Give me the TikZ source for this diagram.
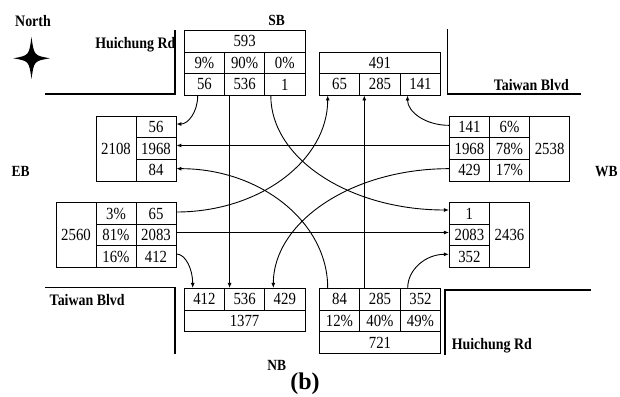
\documentclass[tikz,border=0pt]{standalone}
\usepackage{fontspec}
\setmainfont{Liberation Serif}[FakeStretch=0.87]
\newfontfamily\plainserif{Liberation Serif}
\usetikzlibrary{arrows.meta}
\newcommand\mynum{\fontsize{17}{17}\selectfont}
\newcommand\mylbl{\fontsize{16}{16}\selectfont\bfseries}
\newcommand\mydir{\fontsize{15.5}{15.5}\selectfont\bfseries}
\begin{document}
\begin{tikzpicture}[x=1pt,y=-1pt,
  cell/.style={draw, line width=0.8pt, inner sep=0pt, minimum width=40.2pt, minimum height=21.6pt, font=\mynum},
  arr/.style={line width=0.9pt, -{Latex[length=5pt,width=4pt]}},
  road/.style={line width=1.1pt},
  lbl/.style={font=\mylbl, anchor=base, inner sep=0pt},
  dir/.style={font=\mydir, anchor=base, inner sep=0pt}]
\useasboundingbox (0,0) rectangle (620,396);

% compass star
\fill (31.5,37) .. controls (34,55.5) .. (50,58.3) .. controls (34,61) .. (31.5,79) .. controls (29,61) .. (13.3,58.3) .. controls (29,55.5) .. (31.5,37) -- cycle;

% labels
\node[lbl] (north) at (33,26.7) {North};
\node[dir] (sblbl) at (276.7,26) {SB};
\node[dir] (eblbl) at (20.7,176.7) {EB};
\node[dir] (wblbl) at (606.3,176.7) {WB};
\node[dir] (nblbl) at (276.7,370.7) {NB};
\node[lbl] (hr1) at (135.3,48.3) {Huichung Rd};
\node[lbl] (tb1) at (531.3,90.5) {Taiwan Blvd};
\node[lbl] (tb2) at (87.2,305.7) {Taiwan Blvd};
\node[lbl] (hr2) at (491.8,349.3) {Huichung Rd};
\node[anchor=base, inner sep=0pt, font=\plainserif\fontsize{24}{24}\selectfont\bfseries] (cap) at (305,389) {(b)};

% road corners
\draw[road] (45,94) -- (175,94) -- (175,30);
\draw[road] (447.7,29) -- (447.7,94) -- (580.7,94);
\draw[road] (45,287.7) -- (175,287.7) -- (175,354);
\draw[road] (445,355) -- (445,290) -- (591,290);

% SB box
\node[cell, minimum width=120.6pt] (sbT) at (244.6,41.45) {593};
\node[cell] (sbp1) at (204.4,62.95) {9\%};
\node[cell] (sbp2) at (244.6,62.95) {90\%};
\node[cell] (sbp3) at (284.8,62.95) {0\%};
\node[cell] (sb1) at (204.4,84.45) {56};
\node[cell] (sb2) at (244.6,84.45) {536};
\node[cell] (sb3) at (284.8,84.45) {1};

% top outgoing box
\node[cell, minimum width=121.4pt] (toT) at (380,62.75) {491};
\node[cell, minimum width=40.5pt] (to1) at (339.5,84.25) {65};
\node[cell, minimum width=40.5pt] (to2) at (380,84.25) {285};
\node[cell, minimum width=40.5pt] (to3) at (420.5,84.25) {141};

% EB outgoing box
\node[cell, minimum width=40pt, minimum height=65pt] (eoT) at (116,148.5) {2108};
\node[cell, minimum width=40pt] (eo1) at (156,126.83) {56};
\node[cell, minimum width=40pt] (eo2) at (156,148.5) {1968};
\node[cell, minimum width=40pt] (eo3) at (156,170.17) {84};

% EB incoming box
\node[cell, minimum width=40pt, minimum height=64.6pt] (eiT) at (76,235) {2560};
\node[cell, minimum width=40pt] (eip1) at (116,213.5) {3\%};
\node[cell, minimum width=40pt] (eip2) at (116,235) {81\%};
\node[cell, minimum width=40pt] (eip3) at (116,256.5) {16\%};
\node[cell, minimum width=40pt] (ei1) at (156,213.5) {65};
\node[cell, minimum width=40pt] (ei2) at (156,235) {2083};
\node[cell, minimum width=40pt] (ei3) at (156,256.5) {412};

% WB incoming box
\node[cell] (wi1) at (469.4,126.83) {141};
\node[cell] (wi2) at (469.4,148.5) {1968};
\node[cell] (wi3) at (469.4,170.17) {429};
\node[cell] (wip1) at (509.5,126.83) {6\%};
\node[cell] (wip2) at (509.5,148.5) {78\%};
\node[cell] (wip3) at (509.5,170.17) {17\%};
\node[cell, minimum height=65pt] (wiT) at (549.6,148.5) {2538};

% WB outgoing box
\node[cell] (wo1) at (469.4,213.5) {1};
\node[cell] (wo2) at (469.4,235) {2083};
\node[cell] (wo3) at (469.4,256.5) {352};
\node[cell, minimum height=64.6pt] (woT) at (509.5,235) {2436};

% NB outgoing box
\node[cell] (no1) at (204.4,299.15) {412};
\node[cell] (no2) at (244.6,299.15) {536};
\node[cell] (no3) at (284.8,299.15) {429};
\node[cell, minimum width=120.6pt] (noT) at (244.6,320.85) {1377};

% NB incoming box
\node[cell, minimum width=40.5pt] (ni1) at (339.5,299.15) {84};
\node[cell, minimum width=40.5pt] (ni2) at (380,299.15) {285};
\node[cell, minimum width=40.5pt] (ni3) at (420.5,299.15) {352};
\node[cell, minimum width=40.5pt] (nip1) at (339.5,320.85) {12\%};
\node[cell, minimum width=40.5pt] (nip2) at (380,320.85) {40\%};
\node[cell, minimum width=40.5pt] (nip3) at (420.5,320.85) {49\%};
\node[cell, minimum width=121.4pt] (niT) at (380,342.5) {721};

% movements
\draw[arr] ([xshift=-6.7pt]sb1.south) .. controls +(0,16) and +(12,0) .. ([yshift=2.8pt]eo1.east);
\draw[arr] ([xshift=-15pt]sb2.south) -- ([xshift=-15pt]no2.north);
\draw[arr] ([xshift=-14pt]sb3.south) .. controls +(0,63.4) and +(-98.5,0) .. ([yshift=3.5pt]wo1.west);

\draw[arr] ([yshift=1.5pt]wi1.west) .. controls +(-23,0) and +(0,16.8) .. ([xshift=-13pt]to3.south);
\draw[arr] ([yshift=3pt]wi2.west) -- ([yshift=3pt]eo2.east);
\draw[arr] ([yshift=1.5pt]wi3.west) .. controls +(-97,0) and +(0,-66) .. ([xshift=-11.5pt]no3.north);

\draw[arr] ([yshift=1.5pt]ei1.east) .. controls +(83.7,0) and +(0,64.6) .. ([xshift=-11.8pt]to1.south);
\draw[arr] ([yshift=2.5pt]ei2.east) -- ([yshift=2.5pt]wo2.west);
\draw[arr] ([yshift=2.5pt]ei3.east) .. controls +(9.2,0) and +(0,-18.8) .. ([xshift=-11.7pt]no1.north);

\draw[arr] ([xshift=-11.8pt]ni1.north) .. controls +(0,-66) and +(83.7,0) .. ([yshift=1.5pt]eo3.east);
\draw[arr] ([xshift=-15.7pt]ni2.north) -- ([xshift=-15.7pt]to2.south);
\draw[arr] ([xshift=-12.8pt]ni3.north) .. controls +(0,-18.7) and +(-23,0) .. ([yshift=2.2pt]wo3.west);
\end{tikzpicture}
\end{document}
